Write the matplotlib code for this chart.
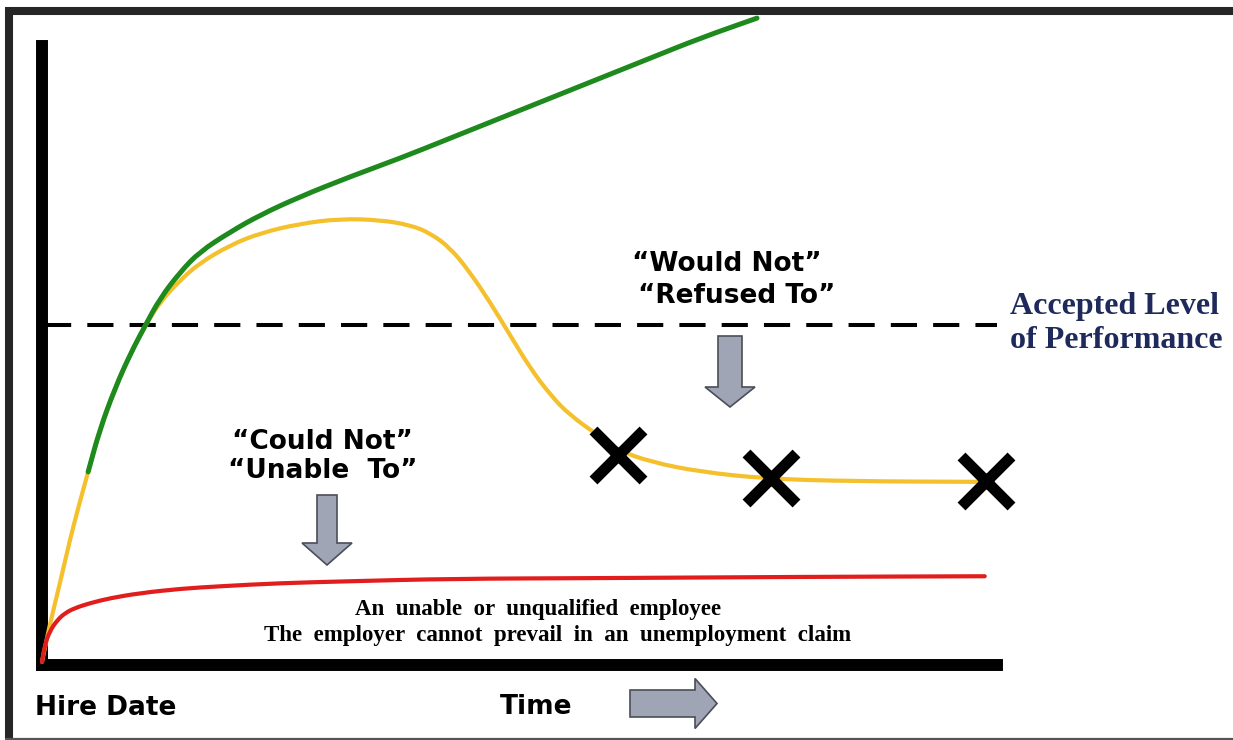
import matplotlib
matplotlib.use("Agg")
import matplotlib.pyplot as plt
from matplotlib.patches import FancyArrow, PathPatch
from matplotlib.path import Path

# ---------------- data (time 0-100, performance 0-100) ----------------
time_yellow = [0, 0.8, 1.9, 2.9, 3.9, 4.8, 6.0, 7.6, 9.2, 10.7, 12.3, 14.4, 16.4, 19.6, 22.7,
               26.8, 31.0, 35.2, 38.3, 40.4, 42.5, 44.5, 46.6, 48.7, 50.8, 52.9, 54.9, 58.1,
               59.9, 63.3, 68.5, 75.4, 84.1, 98.1]
perf_yellow = [0.5, 6.4, 13.3, 20.0, 25.9, 30.9, 37.6, 44.3, 49.8, 54.2, 58.1, 61.6, 64.3, 67.2,
               69.1, 70.6, 71.4, 71.2, 70.4, 69.1, 66.7, 62.9, 58.1, 52.8, 47.5, 43.2, 40.0, 36.5,
               34.4, 32.5, 30.9, 29.8, 29.4, 29.3]

time_green = [4.8, 6.0, 7.6, 9.2, 10.7, 12.3, 14.4, 16.4, 19.6, 22.7, 26.8, 32.0, 37.3, 42.5,
              47.7, 52.9, 58.1, 63.3, 68.5, 74.4]
perf_green = [30.9, 37.6, 44.3, 49.8, 54.2, 58.7, 62.9, 66.1, 69.3, 72.0, 74.9, 78.1, 81.1, 84.3,
              87.5, 90.7, 93.9, 97.1, 100.3, 103.5]

time_red = [0, 0.3, 0.8, 1.6, 2.4, 3.4, 5.0, 7.1, 10.2, 14.4, 18.5, 24.8, 32.0, 42.5, 58.1, 78.9, 98.1]
perf_red = [0.5, 3.2, 5.4, 7.2, 8.3, 9.1, 9.9, 10.7, 11.5, 12.2, 12.6, 13.1, 13.4, 13.8, 13.9, 14.1, 14.2]

time_marks = [59.9, 75.9, 98.2]
perf_marks = [33.6, 29.9, 29.4]

accepted_level = 54.4
accepted_span = [0.3, 99.7]

# ---------------- figure ----------------
W, H = 1233, 740
fig = plt.figure(figsize=(W / 100, H / 100), dpi=100)
fig.patch.set_facecolor("white")

def px(x0, y0, x1, y1):
    return [x0 / W, 1 - y1 / H, (x1 - x0) / W, (y1 - y0) / H]

ax = fig.add_axes(px(42, 46, 997, 665))
ax.set_xlim(0, (997 - 42) / 9.61)
ax.set_ylim(0, (665 - 46) / 6.25)
for s in ["top", "right"]:
    ax.spines[s].set_visible(False)
for s in ["left", "bottom"]:
    ax.spines[s].set_linewidth(8.6)
    ax.spines[s].set_color("black")
ax.set_xticks([])
ax.set_yticks([])
ax.patch.set_alpha(0)


def smooth_curve(axis, xs, ys, **kw):
    """Draw a smoothed line through the series using quadratic Bezier segments."""
    pts = list(zip(xs, ys))
    verts = [pts[0]]
    codes = [Path.MOVETO]
    mid = lambda a, b: ((a[0] + b[0]) / 2, (a[1] + b[1]) / 2)
    verts.append(mid(pts[0], pts[1]))
    codes.append(Path.LINETO)
    for i in range(1, len(pts) - 1):
        verts += [pts[i], mid(pts[i], pts[i + 1])]
        codes += [Path.CURVE3, Path.CURVE3]
    verts.append(pts[-1])
    codes.append(Path.LINETO)
    patch = PathPatch(Path(verts, codes), fill=False, transform=axis.transData,
                      clip_on=False, capstyle="round", joinstyle="round", **kw)
    axis.add_patch(patch)


ax.plot(accepted_span, [accepted_level] * 2, color="black", lw=2.9,
        linestyle=(0, (6.5, 4.0)), zorder=2)
smooth_curve(ax, time_yellow, perf_yellow, edgecolor="#f4c02c", lw=3.0, zorder=3)
smooth_curve(ax, time_green, perf_green, edgecolor="#1e8a1e", lw=3.6, zorder=4)
smooth_curve(ax, time_red, perf_red, edgecolor="#e11d1d", lw=3.0, zorder=5)
ax.plot(time_marks, perf_marks, linestyle="none", marker="x", ms=36, mew=8,
        color="black", zorder=6, clip_on=False)

# ---------------- overlay (pixel layout layer) ----------------
ov = fig.add_axes([0, 0, 1, 1], zorder=10)
ov.set_xlim(0, W)
ov.set_ylim(H, 0)
ov.axis("off")
ov.patch.set_alpha(0)

# frame
ov.plot([5, W], [11, 11], color="#262626", lw=5.8, solid_capstyle="butt")
ov.plot([9, 9], [7, H], color="#262626", lw=5.8, solid_capstyle="butt")
ov.plot([5, W], [738.5, 738.5], color="#555555", lw=1.6, solid_capstyle="butt")

sans = dict(family="DejaVu Sans", fontweight="bold", color="black")
serif = dict(family="Liberation Serif", fontweight="bold")

ov.text(1010, 314, "Accepted Level", fontsize=23, color="#1f2a5c", ha="left", va="baseline", **serif)
ov.text(1010, 348, "of Performance", fontsize=23, color="#1f2a5c", ha="left", va="baseline", **serif)

ov.text(727, 271, "\u201cWould Not\u201d", fontsize=19, ha="center", va="baseline", **sans)
ov.text(737, 303, "\u201cRefused To\u201d", fontsize=19, ha="center", va="baseline", **sans)
ov.text(322, 449, "\u201cCould Not\u201d", fontsize=19, ha="center", va="baseline", **sans)
ov.text(323, 478, "\u201cUnable  To\u201d", fontsize=19, ha="center", va="baseline", **sans)

ov.text(35, 715, "Hire Date", fontsize=19, ha="left", va="baseline", **sans)
ov.text(500, 714, "Time", fontsize=19, ha="left", va="baseline", **sans)

ov.text(538, 615, "An  unable  or  unqualified  employee", fontsize=16.5, color="black",
        ha="center", va="baseline", **serif)
ov.text(558, 641, "The  employer  cannot  prevail  in  an  unemployment  claim", fontsize=16.5,
        color="black", ha="center", va="baseline", **serif)

arrow_kw = dict(facecolor="#a0a5b5", edgecolor="#4a4e58", lw=1.2, length_includes_head=True)
ov.add_patch(FancyArrow(327, 495, 0, 70, width=20, head_width=50, head_length=22, **arrow_kw))
ov.add_patch(FancyArrow(730, 336, 0, 71, width=24, head_width=50, head_length=20, **arrow_kw))
ov.add_patch(FancyArrow(630, 703.5, 87, 0, width=27, head_width=50, head_length=22, **arrow_kw))

fig.savefig("out.png", dpi=100, facecolor="white")
